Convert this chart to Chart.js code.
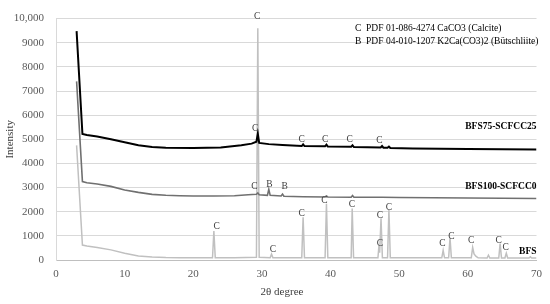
<!DOCTYPE html>
<html>
<head>
<meta charset="utf-8">
<script src="https://cdn.jsdelivr.net/npm/chart.js@4"></script>
<style>
  html, body { margin: 0; padding: 0; background: #fff; }
  #wrap { width: 550px; height: 304px; }
</style>
</head>
<body>
<div id="wrap"><canvas id="xrd"></canvas></div>
<script>
// 2theta / intensity
var bfs75X = [3.0, 3.85, 4.5, 6, 8, 10, 12, 14, 16, 20, 24, 27, 28.5, 29.2, 29.4, 29.6, 31, 33, 35.8, 36.0, 36.2, 39.2, 39.4, 39.6, 43.0, 43.2, 43.4, 47.3, 47.5, 47.7, 48.3, 48.5, 48.7, 52, 60, 70];
var bfs75Y = [9480, 5220, 5180, 5120, 5000, 4880, 4750, 4680, 4650, 4640, 4660, 4750, 4820, 4900, 5230, 4850, 4800, 4760, 4720, 4790, 4720, 4710, 4780, 4700, 4690, 4750, 4680, 4660, 4720, 4650, 4650, 4700, 4640, 4620, 4600, 4580];

var bfs100X = [3.0, 3.85, 4.5, 6, 8, 10, 12, 14, 16, 18, 20, 23, 26, 28, 29.2, 29.4, 29.6, 30.8, 31.0, 31.2, 32.8, 33.0, 33.2, 36, 39.2, 39.4, 39.6, 43.0, 43.2, 43.4, 47.5, 50, 55, 60, 65, 70];
var bfs100Y = [7400, 3250, 3200, 3150, 3050, 2900, 2800, 2720, 2680, 2660, 2650, 2650, 2660, 2700, 2720, 2780, 2700, 2680, 2930, 2680, 2650, 2730, 2640, 2620, 2610, 2650, 2610, 2600, 2670, 2600, 2600, 2590, 2580, 2570, 2560, 2550];

var bfsX = [3.0, 3.85, 4.5, 6, 8, 10, 12, 14, 16, 18, 20, 22.8, 23.0, 23.2, 26, 29.2, 29.4, 29.6, 31.2, 31.4, 31.6, 35.8, 36.0, 36.2, 39.2, 39.4, 39.6, 43.0, 43.15, 43.35, 46.9, 47.05, 47.15, 47.35, 47.55, 48.3, 48.5, 48.7, 56.2, 56.4, 56.6, 57.2, 57.4, 57.6, 60.5, 60.7, 60.9, 61.2, 61.5, 62.8, 63.0, 63.2, 64.5, 64.7, 64.9, 65.4, 65.6, 65.8, 68.9, 69.1, 69.3, 70];
var bfsY = [4750, 620, 580, 520, 420, 280, 170, 120, 100, 95, 90, 90, 1200, 90, 90, 110, 9600, 110, 90, 240, 90, 90, 1770, 90, 90, 2330, 90, 90, 2130, 90, 90, 600, 300, 1730, 90, 90, 2090, 90, 90, 400, 90, 90, 920, 90, 90, 520, 250, 150, 90, 80, 200, 80, 80, 680, 80, 80, 280, 80, 80, 130, 80, 80];

// phase marks (C = calcite, B = buetschliite)
var markX = [29.0, 35.8, 39.2, 42.8, 47.1, 28.9, 31.1, 33.3, 23.4, 29.3, 31.6, 35.8, 39.1, 43.1, 47.2, 47.2, 48.5, 56.3, 57.6, 60.5, 64.5, 65.5];
var markY = [5450, 4990, 4990, 4990, 4930, 3050, 3120, 3050, 1370, 10100, 440, 1930, 2450, 2290, 1850, 680, 2170, 680, 960, 800, 800, 520];
var markText = ['C', 'C', 'C', 'C', 'C', 'C', 'B', 'B', 'C', 'C', 'C', 'C', 'C', 'C', 'C', 'C', 'C', 'C', 'C', 'C', 'C', 'C'];

var seriesNames = ['BFS75-SCFCC25', 'BFS100-SCFCC0', 'BFS'];
var seriesColors = ['#000000', '#707070', '#c0c0c0'];
var keyLines = ['C  PDF 01-086-4274 CaCO3 (Calcite)', 'B  PDF 04-010-1207 K2Ca(CO3)2 (Bütschliite)'];

function pts(xs, ys) {
  return xs.map(function (x, i) { return { x: x, y: ys[i] }; });
}

var serif = "'Liberation Serif', 'DejaVu Serif', serif";

var textPlugin = {
  id: 'xrdText',
  afterDatasetsDraw: function (chart) {
    var ctx = chart.ctx;
    var xs = chart.scales.x, ys = chart.scales.y;
    var area = chart.chartArea;
    ctx.save();

    // peak marks
    ctx.fillStyle = '#404040';
    ctx.font = '9.5px ' + serif;
    ctx.textAlign = 'center';
    ctx.textBaseline = 'middle';
    markText.forEach(function (t, i) {
      ctx.fillText(t, xs.getPixelForValue(markX[i]), ys.getPixelForValue(markY[i]));
    });

    // series names at right end
    ctx.fillStyle = '#000';
    ctx.font = 'bold 9.5px ' + serif;
    ctx.textAlign = 'right';
    var nameY = [5520, 3050, 330];
    seriesNames.forEach(function (n, i) {
      ctx.fillText(n, area.right, ys.getPixelForValue(nameY[i]));
    });

    // key text
    ctx.textAlign = 'left';
    ctx.font = '9.5px ' + serif;
    ctx.fillText(keyLines[0], 355, 28);
    ctx.fillText(keyLines[1], 355, 41.5);

    // axis titles
    ctx.fillStyle = '#404040';
    ctx.font = '11px ' + serif;
    ctx.textAlign = 'center';
    ctx.fillText('2θ degree', 282, 292);
    ctx.translate(10, (area.top + area.bottom) / 2);
    ctx.rotate(-Math.PI / 2);
    ctx.fillText('Intensity', 0, 0);
    ctx.restore();
  }
};

new Chart(document.getElementById('xrd'), {
  type: 'scatter',
  data: {
    datasets: [
      { label: seriesNames[0], data: pts(bfs75X, bfs75Y), borderColor: seriesColors[0], borderWidth: 2 },
      { label: seriesNames[1], data: pts(bfs100X, bfs100Y), borderColor: seriesColors[1], borderWidth: 1.6 },
      { label: seriesNames[2], data: pts(bfsX, bfsY), borderColor: seriesColors[2], borderWidth: 1.5 }
    ].map(function (d) {
      d.showLine = true; d.pointRadius = 0; d.tension = 0; d.fill = false;
      return d;
    })
  },
  options: {
    responsive: true,
    maintainAspectRatio: false,
    animation: false,
    layout: { padding: { top: 11, right: 9, left: 0, bottom: 0 } },
    plugins: { legend: { display: false }, tooltip: { enabled: false } },
    scales: {
      x: {
        type: 'linear', min: 0, max: 70,
        ticks: { stepSize: 10, color: '#595959', font: { family: serif, size: 11 }, padding: 8 },
        grid: { display: false, drawTicks: false },
        border: { color: '#bfbfbf', width: 1 },
        afterFit: function (s) { s.height = 44; }
      },
      y: {
        min: 0, max: 10000,
        ticks: {
          stepSize: 1000, color: '#595959', font: { family: serif, size: 11 }, padding: 12,
          callback: function (v) { return v === 10000 ? '10,000' : v; }
        },
        grid: { color: '#d9d9d9', drawTicks: false },
        border: { color: '#d9d9d9', width: 1 },
        afterFit: function (s) { s.width = 56; }
      }
    }
  },
  plugins: [textPlugin]
});
</script>
</body>
</html>
